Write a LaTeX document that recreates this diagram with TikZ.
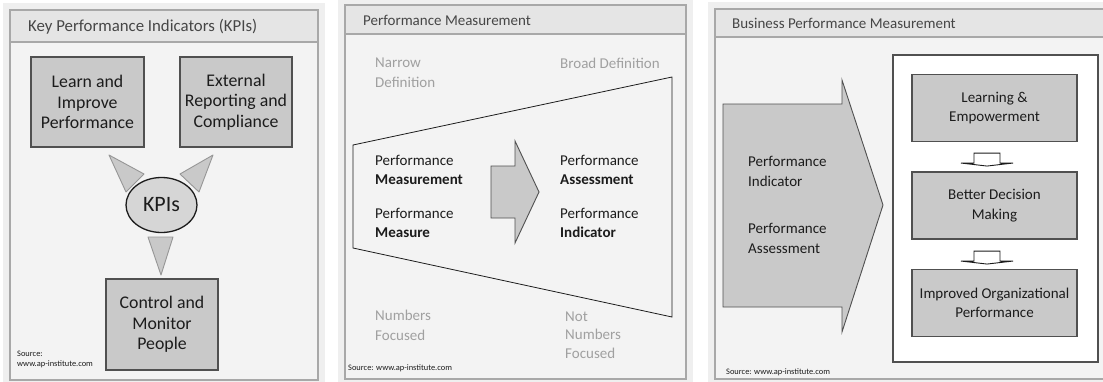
\documentclass[tikz,border=0pt]{standalone}
\usepackage{fontspec}
\setmainfont{Carlito}
\usepackage{tikz}
\usetikzlibrary{positioning, shapes.geometric, calc}
\definecolor{ink}{RGB}{28,28,28}
\definecolor{caption}{RGB}{70,70,70}
\definecolor{faint}{RGB}{160,160,160}
\definecolor{rim}{RGB}{168,168,168}
\definecolor{paper}{RGB}{243,243,243}
\definecolor{shade}{RGB}{229,229,229}
\definecolor{mist}{RGB}{239,239,239}
\definecolor{block}{RGB}{201,201,201}
\definecolor{oval}{RGB}{214,214,214}
\definecolor{edge}{RGB}{80,80,80}
\definecolor{wedgeline}{RGB}{150,150,150}

\begin{document}
\begin{tikzpicture}[x=1pt, y=-1pt, font=\fontsize{15}{19.5}\selectfont, text=ink]
  \tikzset{
    halo/.style={fill=mist},
    panel/.style={draw=rim, fill=paper, line width=1.6pt},
    band/.style={draw=rim, fill=shade, line width=1.6pt},
    ttl/.style={anchor=west, inner sep=0pt, text=caption},
    kbox/.style={draw=edge, fill=block, line width=1.1pt, align=center, inner sep=0pt},
    big/.style={font=\fontsize{17.8}{20.5}\selectfont},
    stage/.style={kbox, minimum width=165, minimum height=67},
    kpi/.style={ellipse, draw=ink, fill=oval, line width=1.3pt, inner sep=0pt,
      minimum width=71, minimum height=55, font=\fontsize{22}{24}\selectfont},
    wedge/.style={draw=wedgeline, fill=block, line width=0.9pt, line join=round},
    funnel/.style={draw=ink, line width=0.8pt},
    bigarrow/.style={draw=edge, fill=block, line width=0.9pt},
    holder/.style={draw=edge, fill=white, line width=1.1pt},
    flow/.style={draw=ink, fill=white, line width=0.9pt},
    lbl/.style={anchor=west, align=left, inner sep=0pt},
    dim/.style={lbl, text=faint},
    src/.style={anchor=west, align=left, inner sep=0pt, font=\fontsize{8.4}{10}\selectfont}}

  \fill[white] (0,0) rectangle (1103,381);
  \useasboundingbox (0,0) rectangle (1103,381);

  % --- panel 1: the KPIs and what they serve
  \fill[halo] (3,3) rectangle (325,387);
  \draw[panel] (10,10) rectangle (318,380);
  \draw[band] (10,10) rectangle (318,42);
  \node[ttl, font=\fontsize{16.8}{18}\selectfont] (t1) at (28,26.5) {Key Performance Indicators (KPIs)};

  \node[kbox, big, minimum width=113, minimum height=90]
    (learn) at (87.5,102) {Learn and\\Improve\\Performance};
  \node[kbox, big, minimum width=112, minimum height=90]
    (extrep) at (236,102) {External\\Reporting and\\Compliance};
  \node[kpi] (kpis) at (161.5,205) {KPIs};
  \node[kbox, big, minimum width=112, minimum height=91]
    (control) at (162,324.5) {Control and\\Monitor\\People};

  \draw[wedge] (109,155) -- (144,174) -- (126,192) -- cycle;
  \draw[wedge] (213,155) -- (180,174) -- (199,192) -- cycle;
  \draw[wedge] (148,237) -- (173,237) -- (161,275) -- cycle;

  \node[src] (src1) at (17,359) {Source:\\www.ap-institute.com};

  % --- panel 2: narrow against broad
  \fill[halo] (338,-2) rectangle (693,386);
  \draw[panel] (345,5) rectangle (686,379);
  \draw[band] (345,5) rectangle (686,34);
  \node[ttl] (t2) at (363,20) {Performance Measurement};

  \draw[funnel] (353,145) -- (672,77) -- (672,317) -- (353,248) -- cycle;
  \draw[bigarrow] (491,166) -- (515,166) -- (515,141) -- (539,192)
    -- (515,243) -- (515,218) -- (491,218) -- cycle;

  \node[dim] (narrow) at (375,72.5) {Narrow\\Definition};
  \node[dim] (broad) at (560,63) {Broad Definition};
  \node[lbl] (pmt) at (375,170) {Performance\\\textbf{Measurement}};
  \node[lbl] (pme) at (375,223) {Performance\\\textbf{Measure}};
  \node[lbl] (pas) at (560,170) {Performance\\\textbf{Assessment}};
  \node[lbl] (pin) at (560,223) {Performance\\\textbf{Indicator}};
  \node[dim] (numf) at (375,325.5) {Numbers\\Focused};
  \node[dim, font=\fontsize{15}{18.5}\selectfont] (notf) at (565,335) {Not\\Numbers\\Focused};
  \node[src] (src2) at (348,368) {Source: www.ap-institute.com};

  % --- panel 3: indicator and assessment feeding the chain
  \fill[halo] (708,2) rectangle (1110,386);
  \draw[panel] (715,9) rectangle (1112,379);
  \draw[band] (715,9) rectangle (1112,37);
  \node[ttl] (t3) at (732,23) {Business Performance Measurement};

  \draw[bigarrow] (723,104) -- (842,104) -- (842,80) -- (883,205)
    -- (842,332) -- (842,307) -- (723,307) -- cycle;
  \node[lbl] (pind) at (748,171.5) {Performance\\Indicator};
  \node[lbl] (pass) at (748,238.5) {Performance\\Assessment};

  \draw[holder] (893,55) rectangle (1098,362);
  \node[stage] (lrn) at (994.5,108) {Learning \&\\Empowerment};
  \node[stage] (bdm) at (994.5,205.5) {Better Decision\\Making};
  \node[stage] (iop) at (994.5,303) {Improved Organizational\\Performance};

  \path (lrn.south) ++(-7.5,11) coordinate (f1);
  \path (bdm.south) ++(-7.5,11.5) coordinate (f2);
  \foreach \f in {f1,f2}
    \draw[flow] (\f) ++(-13,0) -- ++(26,0) -- ++(0,10) -- ++(13,0)
      -- ++(-26,3) -- ++(-26,-3) -- ++(13,0) -- cycle;

  \node[src] (src3) at (726,372) {Source: www.ap-institute.com};
\end{tikzpicture}
\end{document}
